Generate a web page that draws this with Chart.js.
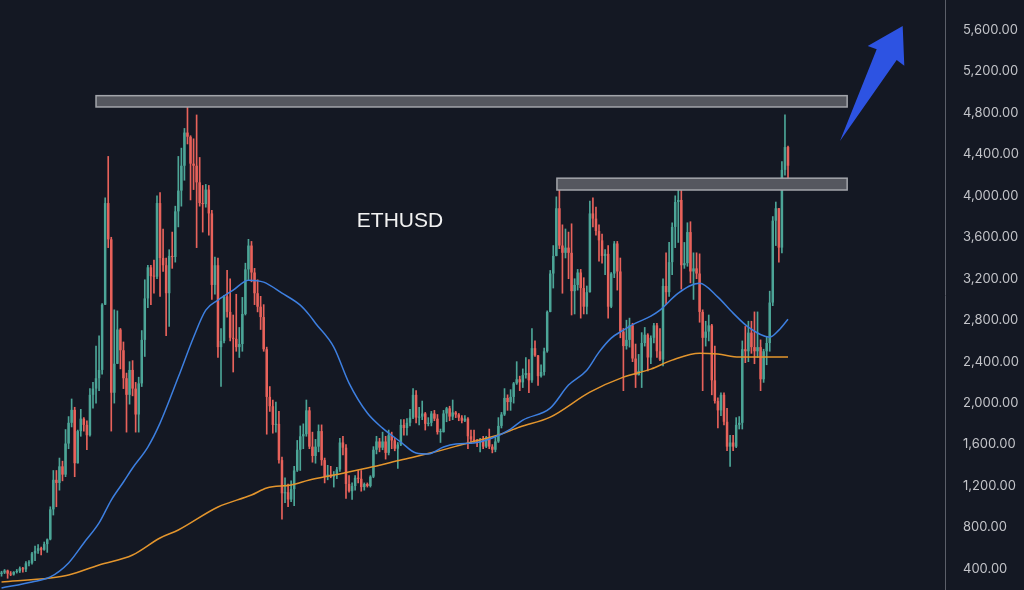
<!DOCTYPE html>
<html>
<head>
<meta charset="utf-8">
<title>ETHUSD</title>
<script src="https://cdn.jsdelivr.net/npm/chart.js@4.4.1/dist/chart.umd.min.js"></script>
<style>
  html, body { margin: 0; padding: 0; background: #141823; }
  #wrap { width: 1024px; height: 590px; position: relative; }
</style>
</head>
<body>
<div id="wrap"><canvas id="ethChart"></canvas></div>
<script>
// weekly candles, first week starts 2020-09-07
var startWeek = '2020-09-07';

var opens = [
  352,365,385,355,346,370,377,406,396,454,
  460,550,575,600,585,640,685,975,1260,1230,
  1390,1310,1610,1810,1935,1420,1730,1850,1790,1690,
  2080,2140,2240,2320,2950,3930,3580,2100,2380,2710,
  2510,2240,2080,2320,2140,1890,2190,2610,3010,3310,
  3225,3220,3930,3400,3330,3060,3420,3410,3850,4050,
  4290,4610,4570,4310,4290,4130,3930,3920,4060,3830,
  3140,3330,2540,2600,3030,2880,2630,2620,2540,2570,
  2860,3290,3520,3260,3060,2930,2830,2520,2060,1970,
  1790,1800,1450,1130,1140,1070,1170,1350,1550,1680,
  1700,1930,1580,1490,1580,1730,1450,1290,1310,1290,
  1310,1360,1620,1570,1220,1150,1200,1280,1270,1190,
  1220,1200,1290,1550,1630,1570,1630,1520,1690,1640,
  1560,1600,1790,1760,1810,1860,2080,1860,1870,1900,
  1800,1810,1900,1850,1720,1720,1900,1950,1870,1910,
  1890,1860,1830,1850,1680,1650,1630,1620,1650,1580,
  1670,1580,1550,1630,1780,1890,2050,2010,2060,2190,
  2230,2200,2270,2290,2220,2530,2460,2260,2300,2500,
  2880,3250,3420,3880,3520,3450,3500,3450,3080,3140,
  3260,3110,2930,3070,3830,3780,3660,3570,3420,3440,
  2930,3250,3540,3270,2690,2550,2610,2750,2430,2270,
  2310,2580,2660,2440,2630,2750,2500,2420,3130,3070,
  3360,3700,3940,3960,3330,3350,3650,3270,3300,3250,
  2880,2630,2690,2750,2220,2020,1930,2080,1820,1580,
  1620,1580,1790,1810,2520,2500,2680,2540,2500,2540,
  2230,2500,2580,2970,3760,3880,3500,4250,4470
];
var highs = [
  378,395,390,375,375,395,420,416,470,480,
  560,620,635,610,660,690,1000,1350,1350,1470,
  1440,1745,1870,2040,1960,1740,1940,1860,1830,2140,
  2200,2550,2650,2960,3980,4380,3600,2900,2890,2720,
  2590,2290,2400,2410,2200,2250,2700,3190,3330,3330,
  3380,4000,4030,3680,3400,3480,3650,3900,4380,4460,
  4650,4870,4580,4550,4780,4370,4100,4110,4100,3860,
  3410,3400,2720,3040,3280,3200,2850,3050,2730,3020,
  3350,3580,3560,3300,3190,3030,2950,2540,2160,2030,
  2010,1920,1480,1280,1220,1250,1390,1640,1780,1800,
  2030,1960,1720,1650,1790,1790,1470,1400,1390,1340,
  1380,1660,1680,1600,1300,1230,1300,1350,1350,1230,
  1230,1300,1580,1680,1660,1720,1680,1740,1720,1660,
  1620,1840,1840,1850,1940,2140,2120,1960,2020,1910,
  1860,1920,1930,1890,1750,1930,1960,1970,2030,1920,
  1900,1880,1880,1860,1740,1740,1650,1660,1680,1680,
  1750,1600,1680,1860,1910,2140,2080,2130,2200,2400,
  2260,2330,2440,2420,2720,2600,2460,2370,2530,2890,
  3280,3520,3990,4090,3720,3680,3650,3730,3200,3290,
  3290,3210,3130,3950,3980,3890,3720,3630,3480,3520,
  3260,3560,3560,3400,2720,2800,2820,2770,2570,2470,
  2680,2730,2670,2650,2770,2770,2720,3200,3450,3550,
  3740,4000,4100,4110,3550,3740,3750,3450,3450,3440,
  2900,2790,2850,2760,2550,2050,2100,2100,1950,1690,
  1690,1860,1870,2600,2740,2790,2790,2880,2880,2610,
  2520,2640,3080,3800,3940,3880,4330,4780,4480
];
var lows = [
  330,355,310,335,340,360,365,370,375,430,
  445,480,550,535,580,560,680,920,1000,1160,
  1250,1290,1560,1770,1290,1420,1680,1730,1550,1680,
  1950,2000,2120,2280,2950,3500,1730,2000,2380,2330,
  2140,1720,1990,2070,1720,1720,2160,2450,2920,2950,
  3060,3200,3030,3270,2650,2740,3300,3360,3700,3900,
  4150,4500,3960,4060,3500,3900,3650,3890,3620,3000,
  3050,2440,2160,2580,2830,2600,2300,2500,2440,2500,
  2850,3190,3170,2950,2880,2710,2500,1700,1920,1710,
  1720,1420,880,1040,1000,1050,1010,1340,1350,1560,
  1680,1560,1430,1420,1530,1400,1230,1260,1280,1190,
  1270,1340,1500,1080,1140,1070,1160,1230,1150,1160,
  1190,1190,1280,1510,1530,1550,1460,1500,1560,1540,
  1370,1590,1690,1690,1780,1850,1810,1790,1840,1740,
  1780,1780,1830,1700,1620,1720,1820,1830,1840,1860,
  1830,1810,1820,1560,1610,1620,1580,1530,1560,1570,
  1560,1520,1530,1620,1760,1880,1930,1930,2000,2180,
  2120,2150,2240,2100,2200,2450,2170,2250,2270,2490,
  2880,3110,3420,3490,3060,3400,3200,2850,2860,3090,
  2820,2860,2860,3070,3700,3620,3370,3350,3240,2820,
  2920,3210,3090,2630,2120,2520,2540,2400,2150,2270,
  2150,2550,2310,2380,2580,2440,2410,2360,2950,3030,
  3240,3500,3550,3100,3300,3320,3160,3000,3200,2780,
  2120,2550,2600,2080,2000,1760,1880,1790,1540,1390,
  1540,1570,1750,1750,2390,2400,2480,2380,2440,2120,
  2200,2370,2500,2940,3520,3360,3450,4200,4070
];
var closes = [
  365,385,355,346,370,377,406,396,454,460,
  550,575,600,585,640,685,975,1260,1230,1390,
  1310,1610,1810,1935,1420,1730,1850,1790,1690,2080,
  2140,2240,2320,2950,3930,3580,2100,2380,2710,2510,
  2240,2080,2320,2140,1890,2190,2610,3010,3310,3225,
  3220,3930,3400,3330,3060,3420,3410,3850,4050,4290,
  4610,4570,4310,4290,4130,3930,3920,4060,3830,3140,
  3330,2540,2600,3030,2880,2630,2620,2540,2570,2860,
  3290,3520,3260,3060,2930,2830,2520,2060,1970,1790,
  1800,1450,1130,1140,1070,1170,1350,1550,1680,1700,
  1930,1580,1490,1580,1730,1450,1290,1310,1290,1310,
  1360,1620,1570,1220,1150,1200,1280,1270,1190,1220,
  1200,1290,1550,1630,1570,1630,1520,1690,1640,1560,
  1600,1790,1760,1810,1860,2080,1860,1870,1900,1800,
  1810,1900,1850,1720,1720,1900,1950,1870,1910,1890,
  1860,1830,1850,1680,1650,1630,1620,1650,1580,1670,
  1580,1550,1630,1780,1890,2050,2010,2060,2190,2230,
  2200,2270,2290,2220,2530,2460,2260,2300,2500,2880,
  3250,3420,3880,3520,3450,3500,3450,3080,3140,3260,
  3110,2930,3070,3830,3780,3660,3570,3420,3440,2930,
  3250,3540,3270,2690,2550,2610,2750,2430,2270,2310,
  2580,2660,2440,2630,2750,2500,2420,3130,3070,3360,
  3700,3940,3960,3330,3350,3650,3270,3300,3250,2880,
  2630,2690,2750,2220,2020,1930,2080,1820,1580,1620,
  1580,1790,1810,2520,2500,2680,2540,2500,2540,2230,
  2500,2580,2970,3760,3880,3500,4250,4470,4290
];

// moving averages (week index -> price)
var blueMaIdx = [0,10,16,22,27,32,36,40,43,48,52,58,63,67,71,76,81,86,92,98,101,103,109,114,120,125,131,136,140,145,149,155,161,167,171,180,186,192,196,200,204,208,213,216,222,229,235,240,245,252,255,258];
var blueMa = [217,275,323,458,651,844,1065,1239,1374,1576,1807,2251,2636,2897,2993,3090,3186,3167,3061,2945,2849,2771,2540,2193,1904,1759,1624,1518,1509,1576,1605,1615,1663,1750,1836,1952,2174,2318,2492,2627,2704,2771,2839,2897,3061,3157,3022,2868,2733,2636,2704,2810];
var orangeMaIdx = [0,16,22,32,43,52,58,71,82,87,95,101,109,120,131,142,153,163,170,180,193,204,213,220,229,235,242,251,258];
var orangeMa = [275,313,342,439,535,699,776,998,1113,1181,1210,1258,1306,1374,1451,1528,1615,1692,1769,1865,2106,2251,2328,2415,2482,2473,2444,2444,2444];

var priceTicks = [400,800,1200,1600,2000,2400,2800,3200,3600,4000,4400,4800,5200,5600];

// resistance zones: week index range and price band
var zones = [
  {from: 31, to: 277.4, low: 4857, high: 4966},
  {from: 182.2, to: 277.4, low: 4056, high: 4170}
];

var green = '#4ca597';
var red = '#e8625b';

var candleColors = closes.map(function(c, i) { return c >= opens[i] ? green : red; });
var wickData = highs.map(function(h, i) { return {x: i, y: [lows[i], h]}; });
var bodyData = opens.map(function(o, i) { return {x: i, y: [o, closes[i]]}; });
var blueData = blueMaIdx.map(function(ix, k) { return {x: ix, y: blueMa[k]}; });
var orangeData = orangeMaIdx.map(function(ix, k) { return {x: ix, y: orangeMa[k]}; });

function weekLabel(i) {
  var d = new Date(startWeek + 'T00:00:00Z');
  d.setUTCDate(d.getUTCDate() + 7 * i);
  return d.toISOString().slice(0, 10);
}

var decor = {
  id: 'decor',
  beforeDraw: function(chart) {
    var c = chart.ctx;
    c.save();
    c.fillStyle = '#141823';
    c.fillRect(0, 0, chart.width, chart.height);
    c.restore();
  },
  afterDatasetsDraw: function(chart) {
    var c = chart.ctx, x = chart.scales.x, y = chart.scales.y;
    c.save();
    zones.forEach(function(z) {
      var left = x.getPixelForValue(z.from);
      var right = x.getPixelForValue(z.to);
      var top = y.getPixelForValue(z.high);
      var bottom = y.getPixelForValue(z.low);
      c.fillStyle = '#55575f';
      c.fillRect(left, top, right - left, bottom - top);
      c.strokeStyle = '#a3a5ab';
      c.lineWidth = 1.5;
      c.strokeRect(left, top, right - left, bottom - top);
    });
    c.restore();
  },
  afterDraw: function(chart) {
    var c = chart.ctx, a = chart.chartArea;
    c.save();
    // symbol name
    c.fillStyle = '#f2f2f2';
    c.font = '21px "Liberation Sans", Arial, sans-serif';
    c.textAlign = 'center';
    c.textBaseline = 'alphabetic';
    c.fillText('ETHUSD', a.left + 400, a.top + 227);
    // blue arrow
    var pts = [[840, 141], [876.7, 49.3], [867.7, 46], [902.7, 26], [904.3, 65.7], [896.7, 60]];
    c.fillStyle = '#2d53e2';
    c.beginPath();
    pts.forEach(function(p, k) {
      if (k === 0) c.moveTo(a.left + p[0], a.top + p[1]);
      else c.lineTo(a.left + p[0], a.top + p[1]);
    });
    c.closePath();
    c.fill();
    c.restore();
  }
};

var ctx = document.getElementById('ethChart').getContext('2d');
var ethChart = new Chart(ctx, {
  type: 'bar',
  data: {
    datasets: [
      {
        type: 'line',
        label: 'MA 50',
        data: blueData,
        borderColor: '#3d7fe0',
        borderWidth: 1.5,
        pointRadius: 0,
        cubicInterpolationMode: 'monotone',
        order: 0
      },
      {
        type: 'line',
        label: 'MA 200',
        data: orangeData,
        borderColor: '#e3952d',
        borderWidth: 1.5,
        pointRadius: 0,
        cubicInterpolationMode: 'monotone',
        order: 1
      },
      {
        label: 'Body',
        data: bodyData,
        backgroundColor: candleColors,
        borderWidth: 0,
        barPercentage: 0.82,
        categoryPercentage: 1,
        minBarLength: 1,
        grouped: false,
        order: 2
      },
      {
        label: 'Wick',
        data: wickData,
        backgroundColor: candleColors,
        borderWidth: 0,
        barThickness: 1,
        grouped: false,
        order: 3
      }
    ]
  },
  options: {
    responsive: true,
    maintainAspectRatio: false,
    animation: false,
    layout: { padding: 0 },
    plugins: {
      legend: { display: false },
      tooltip: {
        callbacks: {
          title: function(items) { return weekLabel(Math.round(items[0].parsed.x)); }
        }
      }
    },
    scales: {
      x: {
        type: 'linear',
        min: -0.5,
        max: 309.5,
        offset: false,
        display: false
      },
      y: {
        position: 'right',
        min: 197,
        max: 5889,
        grid: { display: false },
        border: { color: '#5c5f69', width: 1 },
        ticks: {
          color: '#c3c4c9',
          padding: 10,
          font: { family: 'Inter', size: 13 },
          callback: function(v) {
            return Number(v).toLocaleString('en-US', {minimumFractionDigits: 2, maximumFractionDigits: 2});
          }
        },
        afterBuildTicks: function(scale) {
          scale.ticks = priceTicks.map(function(v) { return {value: v}; });
        },
        afterFit: function(scale) {
          scale.width = 79;
          scale.paddingTop = 0;
          scale.paddingBottom = 0;
        }
      }
    }
  },
  plugins: [decor]
});
</script>
</body>
</html>
